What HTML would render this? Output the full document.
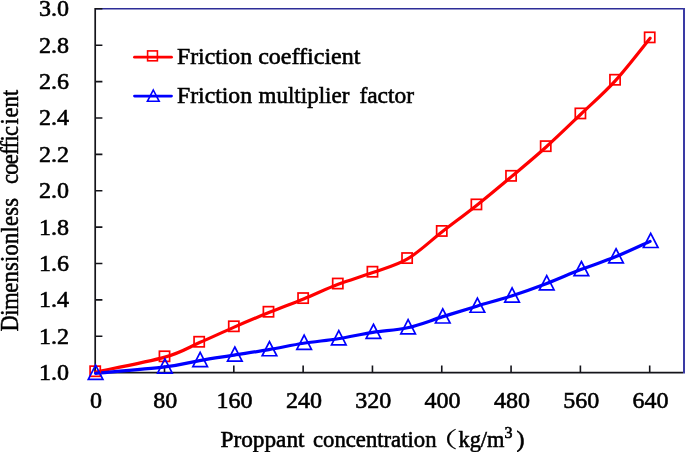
<!DOCTYPE html><html><head><meta charset="utf-8"><title>chart</title>
<style>html,body{margin:0;padding:0;background:#fff}svg{display:block}text{font-family:"Liberation Serif","Noto Serif CJK SC",serif;fill:#000;stroke:#000;stroke-width:0.6px;font-variant-ligatures:none}</style></head><body>
<svg width="685" height="452" viewBox="0 0 685 452">
<rect width="685" height="452" fill="#fff"/>
<path d="M95 8.8H685" stroke="#2d2d98" stroke-width="1.6" fill="none"/>
<path d="M684.2 8V373.5" stroke="#3a3aa4" stroke-width="2.4" fill="none"/>
<path d="M95.2 8V372.7H683" stroke="#14141a" stroke-width="1.7" fill="none"/>
<path d="M95.2 372.70h7.2M95.2 336.31h7.2M95.2 299.92h7.2M95.2 263.53h7.2M95.2 227.14h7.2M95.2 190.75h7.2M95.2 154.36h7.2M95.2 117.97h7.2M95.2 81.58h7.2M95.2 45.19h7.2M95.2 8.80h7.2M95.20 372.7v-7.3M164.51 372.7v-7.3M233.82 372.7v-7.3M303.14 372.7v-7.3M372.45 372.7v-7.3M441.76 372.7v-7.3M511.07 372.7v-7.3M580.39 372.7v-7.3M649.70 372.7v-7.3" stroke="#14141a" stroke-width="1.6" fill="none"/>
<text x="39" y="380.20" font-size="24">1.0</text>
<text x="39" y="343.81" font-size="24">1.2</text>
<text x="39" y="307.42" font-size="24">1.4</text>
<text x="39" y="271.03" font-size="24">1.6</text>
<text x="39" y="234.64" font-size="24">1.8</text>
<text x="39" y="198.25" font-size="24">2.0</text>
<text x="39" y="161.86" font-size="24">2.2</text>
<text x="39" y="125.47" font-size="24">2.4</text>
<text x="39" y="89.08" font-size="24">2.6</text>
<text x="39" y="52.69" font-size="24">2.8</text>
<text x="39" y="16.30" font-size="24">3.0</text>
<text x="96.00" y="407.6" font-size="24" text-anchor="middle">0</text>
<text x="165.31" y="407.6" font-size="24" text-anchor="middle">80</text>
<text x="234.62" y="407.6" font-size="24" text-anchor="middle">160</text>
<text x="303.94" y="407.6" font-size="24" text-anchor="middle">240</text>
<text x="373.25" y="407.6" font-size="24" text-anchor="middle">320</text>
<text x="442.56" y="407.6" font-size="24" text-anchor="middle">400</text>
<text x="511.88" y="407.6" font-size="24" text-anchor="middle">480</text>
<text x="581.19" y="407.6" font-size="24" text-anchor="middle">560</text>
<text x="650.50" y="407.6" font-size="24" text-anchor="middle">640</text>
<text y="446.5" font-size="24"><tspan x="220.5" textLength="84" lengthAdjust="spacingAndGlyphs">Proppant</tspan> <tspan x="313" textLength="123.5" lengthAdjust="spacingAndGlyphs">concentration</tspan><tspan x="427.5" y="446.7" font-size="21.5" textLength="30.1" lengthAdjust="spacingAndGlyphs" style="stroke-width:0.25px">（</tspan><tspan x="458.5" y="446.5" textLength="46" lengthAdjust="spacingAndGlyphs">kg/m</tspan><tspan x="504.5" y="437.5" font-size="16">3</tspan><tspan x="516.5" y="446.5">)</tspan></text>
<text transform="translate(17.7 331.5) rotate(-90) scale(0.9 1)" font-size="25" style="stroke-width:0.5px"><tspan letter-spacing="-0.45">Dim</tspan><tspan letter-spacing="0.28">ensionless</tspan> <tspan x="163.89" letter-spacing="-0.75">coeffi</tspan><tspan letter-spacing="1.7">c</tspan><tspan letter-spacing="0.95">i</tspan><tspan letter-spacing="-0.05">e</tspan><tspan letter-spacing="0.3">nt</tspan></text>
<path transform="translate(0.4 0.8)" d="M95.20 371.24 C106.75 368.76 147.18 361.24 164.51 356.32 C181.84 351.41 187.62 346.77 199.17 341.77 C210.72 336.76 222.27 331.31 233.82 326.30 C245.38 321.30 256.93 316.45 268.48 311.75 C280.03 307.05 291.59 302.80 303.14 298.10 C314.69 293.40 326.24 287.94 337.79 283.54 C349.35 279.15 360.90 275.96 372.45 271.72 C384.00 267.47 395.55 264.86 407.11 258.07 C418.66 251.28 430.21 239.91 441.76 230.96 C453.31 222.02 464.87 213.58 476.42 204.40 C487.97 195.21 499.52 185.53 511.07 175.83 C522.63 166.13 534.18 156.57 545.73 146.17 C557.28 135.77 568.84 124.49 580.39 113.42 C591.94 102.35 603.49 92.44 615.04 79.76 C626.60 67.08 643.92 44.43 649.70 37.37" stroke="#ff0000" stroke-width="3.2" fill="none" stroke-linecap="round" stroke-linejoin="round"/>
<path transform="translate(0.4 0.6)" d="M95.20 372.70 C106.75 371.64 147.18 368.45 164.51 366.33 C181.84 364.21 187.62 361.93 199.17 359.96 C210.72 357.99 222.27 356.32 233.82 354.50 C245.38 352.69 256.93 351.02 268.48 349.05 C280.03 347.08 291.59 344.50 303.14 342.68 C314.69 340.86 326.24 339.95 337.79 338.13 C349.35 336.31 360.90 333.58 372.45 331.76 C384.00 329.94 395.55 329.79 407.11 327.21 C418.66 324.63 430.21 319.90 441.76 316.30 C453.31 312.69 464.87 309.05 476.42 305.56 C487.97 302.07 499.52 299.10 511.07 295.37 C522.63 291.64 534.18 287.58 545.73 283.18 C557.28 278.78 568.84 273.48 580.39 268.99 C591.94 264.50 603.49 260.95 615.04 256.25 C626.60 251.55 643.92 243.36 649.70 240.79" stroke="#0000ff" stroke-width="3.2" fill="none" stroke-linecap="round" stroke-linejoin="round"/>
<rect x="90.10" y="366.14" width="10.2" height="10.2" stroke="#ff0000" stroke-width="1.7" fill="none"/>
<rect x="159.41" y="351.22" width="10.2" height="10.2" stroke="#ff0000" stroke-width="1.7" fill="none"/>
<rect x="194.07" y="336.67" width="10.2" height="10.2" stroke="#ff0000" stroke-width="1.7" fill="none"/>
<rect x="228.72" y="321.20" width="10.2" height="10.2" stroke="#ff0000" stroke-width="1.7" fill="none"/>
<rect x="263.38" y="306.65" width="10.2" height="10.2" stroke="#ff0000" stroke-width="1.7" fill="none"/>
<rect x="298.04" y="293.00" width="10.2" height="10.2" stroke="#ff0000" stroke-width="1.7" fill="none"/>
<rect x="332.69" y="278.44" width="10.2" height="10.2" stroke="#ff0000" stroke-width="1.7" fill="none"/>
<rect x="367.35" y="266.62" width="10.2" height="10.2" stroke="#ff0000" stroke-width="1.7" fill="none"/>
<rect x="402.01" y="252.97" width="10.2" height="10.2" stroke="#ff0000" stroke-width="1.7" fill="none"/>
<rect x="436.66" y="225.86" width="10.2" height="10.2" stroke="#ff0000" stroke-width="1.7" fill="none"/>
<rect x="471.32" y="199.30" width="10.2" height="10.2" stroke="#ff0000" stroke-width="1.7" fill="none"/>
<rect x="505.97" y="170.73" width="10.2" height="10.2" stroke="#ff0000" stroke-width="1.7" fill="none"/>
<rect x="540.63" y="141.07" width="10.2" height="10.2" stroke="#ff0000" stroke-width="1.7" fill="none"/>
<rect x="575.29" y="108.32" width="10.2" height="10.2" stroke="#ff0000" stroke-width="1.7" fill="none"/>
<rect x="609.94" y="74.66" width="10.2" height="10.2" stroke="#ff0000" stroke-width="1.7" fill="none"/>
<rect x="644.60" y="32.27" width="10.2" height="10.2" stroke="#ff0000" stroke-width="1.7" fill="none"/>
<path d="M95.60 365.20L102.90 379.40H88.30Z" stroke="#0000ff" stroke-width="1.7" fill="none"/>
<path d="M164.91 358.83L172.21 373.03H157.61Z" stroke="#0000ff" stroke-width="1.7" fill="none"/>
<path d="M200.17 352.46L207.47 366.66H192.87Z" stroke="#0000ff" stroke-width="1.7" fill="none"/>
<path d="M234.82 347.00L242.12 361.20H227.52Z" stroke="#0000ff" stroke-width="1.7" fill="none"/>
<path d="M269.48 341.55L276.78 355.75H262.18Z" stroke="#0000ff" stroke-width="1.7" fill="none"/>
<path d="M304.14 335.18L311.44 349.38H296.84Z" stroke="#0000ff" stroke-width="1.7" fill="none"/>
<path d="M338.79 330.63L346.09 344.83H331.49Z" stroke="#0000ff" stroke-width="1.7" fill="none"/>
<path d="M373.45 324.26L380.75 338.46H366.15Z" stroke="#0000ff" stroke-width="1.7" fill="none"/>
<path d="M408.11 319.71L415.41 333.91H400.81Z" stroke="#0000ff" stroke-width="1.7" fill="none"/>
<path d="M442.76 308.80L450.06 323.00H435.46Z" stroke="#0000ff" stroke-width="1.7" fill="none"/>
<path d="M477.42 298.06L484.72 312.26H470.12Z" stroke="#0000ff" stroke-width="1.7" fill="none"/>
<path d="M512.08 287.87L519.38 302.07H504.78Z" stroke="#0000ff" stroke-width="1.7" fill="none"/>
<path d="M546.73 275.68L554.03 289.88H539.43Z" stroke="#0000ff" stroke-width="1.7" fill="none"/>
<path d="M581.39 261.49L588.69 275.69H574.09Z" stroke="#0000ff" stroke-width="1.7" fill="none"/>
<path d="M616.04 248.75L623.34 262.95H608.74Z" stroke="#0000ff" stroke-width="1.7" fill="none"/>
<path d="M650.70 233.29L658.00 247.49H643.40Z" stroke="#0000ff" stroke-width="1.7" fill="none"/>
<path d="M134.5 57.2H171.5" stroke="#ff0000" stroke-width="2.8" stroke-linecap="round"/>
<rect x="147.6" y="50.9" width="9.8" height="9.9" stroke="#ff0000" stroke-width="1.6" fill="none"/>
<text y="64.3" font-size="24"><tspan x="177" textLength="75" lengthAdjust="spacingAndGlyphs">Friction</tspan> <tspan x="258.2" textLength="102.3" lengthAdjust="spacingAndGlyphs">coefficient</tspan></text>
<path d="M134.5 96.1H171.5" stroke="#0000ff" stroke-width="2.8" stroke-linecap="round"/>
<path d="M153.3 90L159.2 101.3H147.4Z" stroke="#0000ff" stroke-width="1.6" fill="none"/>
<text y="102.5" font-size="24"><tspan x="177" textLength="75" lengthAdjust="spacingAndGlyphs">Friction</tspan> <tspan x="258.6" textLength="90.7" lengthAdjust="spacingAndGlyphs">multiplier</tspan> <tspan x="359.4" textLength="54.6" lengthAdjust="spacingAndGlyphs">factor</tspan></text>
</svg></body></html>
